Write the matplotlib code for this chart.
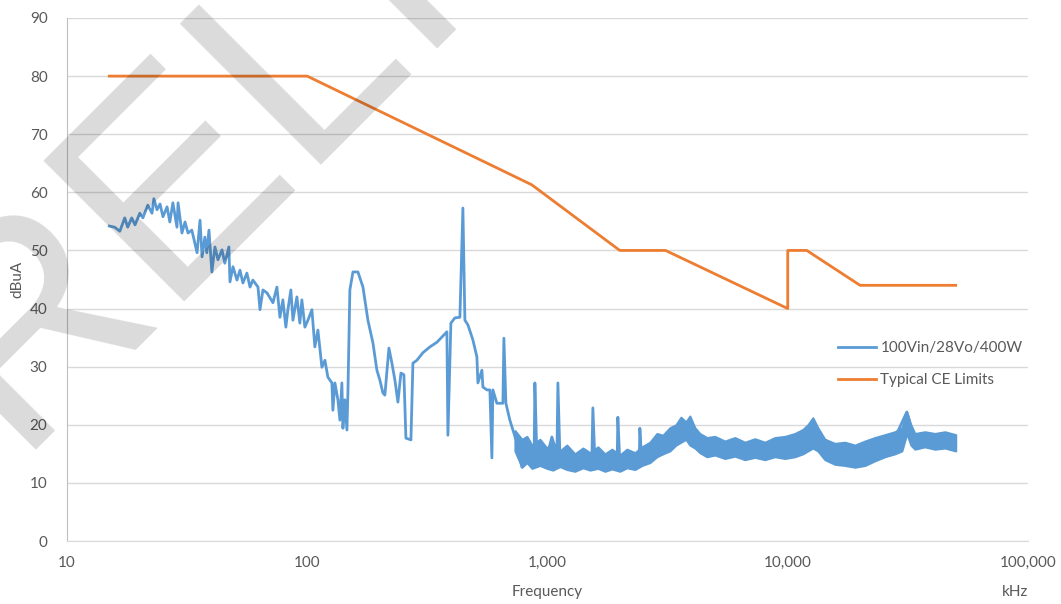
"""Conducted emissions plot: measured spectrum vs. typical CE limit line."""
import matplotlib
matplotlib.use("Agg")
import matplotlib.pyplot as plt
from matplotlib.ticker import FixedLocator, NullLocator

# palette (Excel defaults)
BLUE = "#5B9BD5"
ORANGE = "#ED7D31"
GRID = "#D9D9D9"
TXT = "#595959"

# ---- data ------------------------------------------------------------------
limit_khz = [15, 100, 860, 2000, 3100, 10000, 10000, 12000, 20000, 50000]
limit_dbua = [80, 80, 61.3, 50, 50, 40, 50, 50, 44, 44]

# measured trace, 100Vin/28Vo/400W (kHz, dBuA)
trace_khz = [
    15.0, 15.8, 16.6, 17.4, 17.9, 18.6, 19.2, 20.1, 20.7, 21.7,
    22.6, 23.0, 23.7, 24.4, 25.1, 26.1, 26.8, 27.6, 28.7, 29.0,
    30.1, 31.0, 31.9, 33.1, 34.8, 35.8, 36.5, 37.5, 38.2, 39.0,
    40.1, 41.3, 42.5, 44.2, 45.4, 47.2, 47.7, 49.1, 51.0, 52.5,
    54.0, 56.1, 57.8, 59.4, 62.4, 63.6, 65.4, 68.0, 72.0, 74.8,
    77.0, 79.2, 81.5, 83.1, 85.5, 87.2, 90.6, 93.2, 95.0, 97.8,
    100.7, 104.6, 107.6, 110.8, 115.1, 118.5, 121.9, 126.7, 127.9, 130.4,
    134.2, 136.8, 139.4, 140.8, 143.5, 146.3, 147.7, 150.5, 155.0, 162.6,
    170.6, 178.9, 187.7, 195.0, 200.6, 206.5, 210.5, 218.8, 225.2, 231.7,
    238.5, 245.5, 252.6, 257.5, 270.2, 275.4, 286.1, 303.0, 324.0, 346.6,
    381.4, 385.1, 396.3, 411.8, 432.0, 444.6, 453.2, 466.4, 489.3, 508.4,
    513.3, 533.4, 538.6, 559.6, 575.9, 587.0, 592.7, 615.8, 652.3, 658.6,
    671.3, 697.4, 717.8, 745.7, 782.6, 805.4, 845.2, 880.0, 886.3, 903.4,
    929.7, 994.3, 1043, 1095, 1105, 1126, 1200, 1276, 1400, 1530,
    1545, 1575, 1767, 1950, 1963, 2001, 2267, 2410, 2424, 2472,
    2853, 3731, 4306, 8185, 12720, 18660, 27380, 31300, 33810, 50000,
]
trace_dbua = [
    54.2, 54.0, 53.3, 55.6, 54.0, 55.6, 54.4, 56.4, 55.6, 57.8,
    56.4, 58.9, 57.0, 58.0, 55.8, 57.5, 54.9, 58.2, 54.0, 58.2,
    53.0, 54.9, 53.0, 53.5, 49.6, 55.2, 48.9, 52.3, 49.6, 53.5,
    46.3, 50.6, 48.4, 50.1, 47.8, 50.6, 44.6, 47.2, 44.9, 46.6,
    44.4, 46.1, 43.7, 44.9, 43.7, 39.8, 43.2, 42.7, 41.0, 43.7,
    38.5, 41.5, 36.8, 39.8, 43.2, 38.0, 42.0, 37.5, 41.5, 36.8,
    38.0, 39.8, 33.4, 36.3, 29.9, 31.1, 28.2, 27.2, 22.5, 27.2,
    24.3, 20.8, 27.2, 19.4, 24.3, 19.1, 25.5, 43.2, 46.3, 46.3,
    43.7, 38.0, 34.1, 29.4, 27.7, 25.5, 25.1, 33.2, 30.6, 27.7,
    23.9, 28.9, 28.6, 17.7, 17.4, 30.6, 31.1, 32.4, 33.4, 34.2,
    36.0, 18.2, 37.5, 38.4, 38.5, 57.3, 38.0, 37.2, 34.6, 31.7,
    27.2, 29.4, 26.5, 26.0, 26.0, 14.3, 26.0, 23.7, 23.7, 34.9,
    23.7, 20.8, 19.1, 16.9, 12.7, 17.4, 14.5, 14.8, 27.2, 14.5,
    16.9, 14.5, 17.9, 15.0, 27.2, 15.1, 14.8, 13.9, 15.0, 14.0,
    22.9, 13.9, 14.5, 13.5, 21.3, 13.4, 14.5, 14.0, 19.4, 13.4,
    17.0, 19.0, 16.8, 15.5, 18.5, 14.8, 17.0, 22.2, 17.0, 16.9,
]

# noise floor envelope above ~700 kHz
band_khz = [
    732, 783, 821, 861, 930, 994, 1052, 1126, 1204, 1300,
    1404, 1502, 1621, 1734, 1854, 2001, 2140, 2311, 2472, 2668,
    2853, 3022, 3231, 3423, 3591, 3767, 3913, 4106, 4306, 4606,
    4973, 5472, 6025, 6629, 7296, 8030, 8838, 9727, 10705, 11560,
    12120, 12720, 13340, 14270, 15710, 17290, 19030, 20940, 23040, 25360,
    27910, 29850, 31300, 32540, 33810, 37200, 40950, 45060, 50000,
]
band_hi = [
    19.0, 17.5, 18.0, 16.5, 17.5, 16.0, 17.0, 15.5, 16.5, 15.0,
    16.0, 15.2, 16.2, 15.0, 15.8, 14.8, 15.8, 15.2, 16.2, 17.0,
    18.5, 18.2, 19.5, 20.0, 21.3, 20.5, 21.5, 19.5, 18.5, 17.8,
    18.0, 17.2, 17.8, 17.0, 17.6, 17.0, 17.8, 18.0, 18.5, 19.2,
    20.0, 21.2, 19.5, 17.5, 16.8, 17.0, 16.5, 17.2, 17.8, 18.3,
    18.8, 19.5, 22.2, 20.0, 18.5, 18.8, 18.5, 18.8, 18.3,
]
band_lo = [
    15.5, 12.7, 13.5, 12.5, 13.0, 12.5, 12.2, 12.8, 12.3, 12.0,
    12.6, 12.2, 12.5, 12.0, 12.4, 12.0, 12.6, 12.3, 13.0, 13.5,
    14.5, 15.0, 15.5, 16.5, 17.0, 17.5, 16.5, 16.0, 15.2, 14.5,
    14.8, 14.2, 14.6, 14.0, 14.4, 14.0, 14.5, 14.2, 14.5, 15.0,
    15.5, 16.0, 15.5, 14.0, 13.2, 13.0, 12.7, 13.0, 13.8, 14.5,
    15.0, 15.5, 18.5, 16.5, 15.8, 16.2, 15.8, 16.0, 15.5,
]

xticks = [10, 100, 1000, 10000, 100000]
xtick_labels = ["10", "100", "1,000", "10,000", "100,000"]
yticks = [0, 10, 20, 30, 40, 50, 60, 70, 80, 90]

# ---- figure ----------------------------------------------------------------
plt.rcParams["font.family"] = ["Lato", "DejaVu Sans"]

fig = plt.figure(figsize=(10.61, 6.04), dpi=100)
ax = fig.add_axes([0.0631, 0.1043, 0.9058, 0.8659])

ax.fill_between(band_khz, band_lo, band_hi, color=BLUE, lw=1.5, zorder=2)
ax.plot(trace_khz, trace_dbua, color=BLUE, lw=2.0, zorder=3,
        label="100Vin/28Vo/400W")
ax.plot(limit_khz, limit_dbua, color=ORANGE, lw=2.0, zorder=4,
        label="Typical CE Limits")

ax.set_xscale("log")
ax.set_xlim(10, 100000)
ax.set_ylim(0, 90)
ax.xaxis.set_major_locator(FixedLocator(xticks))
ax.xaxis.set_minor_locator(NullLocator())
ax.set_xticklabels(xtick_labels)
ax.set_yticks(yticks)

ax.yaxis.grid(True, color=GRID, lw=1.0)
ax.set_axisbelow(True)
for s in ("top", "right"):
    ax.spines[s].set_visible(False)
ax.spines["bottom"].set_color(GRID)
ax.spines["left"].set_color("#BFBFBF")
ax.tick_params(axis="both", length=0, labelsize=11, labelcolor=TXT)
ax.tick_params(axis="x", pad=11)
ax.tick_params(axis="y", pad=14)

ax.legend(loc="center left", bbox_to_anchor=(0.802, 0.338), frameon=False,
          fontsize=11, labelcolor=TXT, handlelength=2.5, handletextpad=0.3,
          labelspacing=1.2, borderpad=0, borderaxespad=0)

fig.text(17 / 1061, 1 - 279 / 604, "dBuA", rotation=90, ha="center",
         va="center", fontsize=11, color=TXT)
fig.text(547 / 1061, 1 - 592 / 604, "Frequency", ha="center", va="center",
         fontsize=11, color=TXT)
fig.text(1015 / 1061, 1 - 592 / 604, "kHz", ha="center", va="center",
         fontsize=11, color=TXT)

# watermark
fig.text(-0.1169, 0.0298, "PRELIMINARY", rotation=45, rotation_mode="anchor",
         ha="left", va="baseline", fontsize=209, family="Liberation Sans",
         color="black", alpha=0.145, zorder=10)

fig.savefig("out.png", dpi=100, facecolor="white")
